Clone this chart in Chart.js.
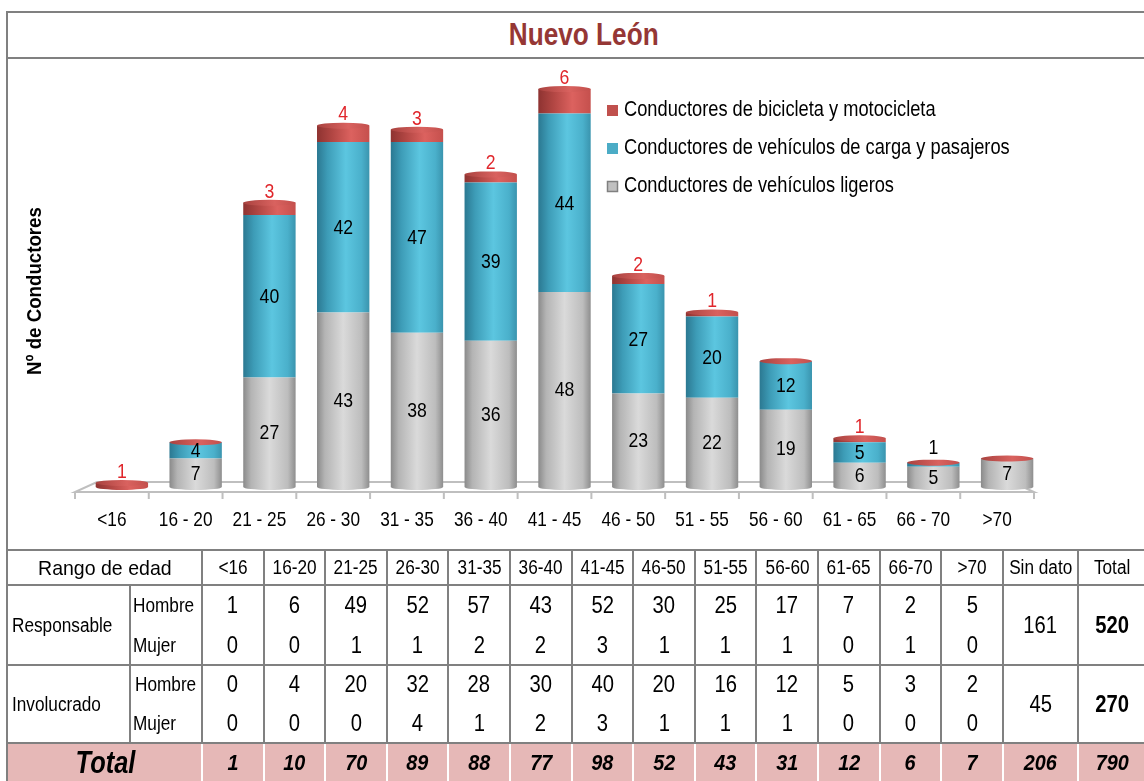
<!DOCTYPE html>
<html>
<head>
<meta charset="utf-8">
<script src="https://cdn.jsdelivr.net/npm/chart.js@4.4.1/dist/chart.umd.min.js"></script>
<style>
html,body{margin:0;padding:0;background:#fff;width:1144px;height:781px;overflow:hidden;
  font-family:"Liberation Sans",Arial,sans-serif;color:#000;}
#titleRow{position:absolute;left:6px;top:11px;width:1160px;height:44px;border-left:2px solid #808080;border-top:2px solid #808080;border-bottom:2px solid #808080;}
#title{position:absolute;left:0;top:0;width:1152px;height:44px;display:flex;align-items:center;justify-content:center;}
#title span{display:inline-block;font-weight:bold;font-size:31px;color:#953735;transform:scaleX(0.845);}
#leftLine{position:absolute;left:6px;top:57px;width:2px;height:730px;background:#808080;}
#cv{position:absolute;left:8px;top:58px;}
#tbl{position:absolute;left:0;top:0;width:1144px;height:781px;}
.c{position:absolute;display:flex;align-items:center;justify-content:center;white-space:nowrap;box-sizing:border-box;}
.c span{display:inline-block;}
.ln{position:absolute;}
</style>
</head>
<body>
<div id="titleRow"><div id="title"><span>Nuevo León</span></div></div>
<div id="leftLine"></div>
<canvas id="cv" width="1136" height="490"></canvas>
<div id="tbl"></div>
<script>
// ---------- chart data ----------
const categories = ['<16','16 - 20','21 - 25','26 - 30','31 - 35','36 - 40','41 - 45','46 - 50','51 - 55','56 - 60','61 - 65','66 - 70','>70'];
const ligeros   = [0, 7, 27, 43, 38, 36, 48, 23, 22, 19, 6, 5, 7];
const carga     = [0, 4, 40, 42, 47, 39, 44, 27, 20, 12, 5, 1, 0];
const bicicleta = [1, 0, 3, 4, 3, 2, 6, 2, 1, 0, 1, 0, 0];
const seriesNames = ['Conductores de vehículos ligeros','Conductores de vehículos de carga y pasajeros','Conductores de bicicleta y motocicleta'];

// ---------- table data ----------
const tableAges  = ['<16','16-20','21-25','26-30','31-35','36-40','41-45','46-50','51-55','56-60','61-65','66-70','>70'];
const respHombre = [1, 6, 49, 52, 57, 43, 52, 30, 25, 17, 7, 2, 5];
const respMujer  = [0, 0, 1, 1, 2, 2, 3, 1, 1, 1, 0, 1, 0];
const invHombre  = [0, 4, 20, 32, 28, 30, 40, 20, 16, 12, 5, 3, 2];
const invMujer   = [0, 0, 0, 4, 1, 2, 3, 1, 1, 1, 0, 0, 0];
const sinDato    = [161, 45];
const totalGrupo = [520, 270];
const totalEdad  = [1, 10, 70, 89, 88, 77, 98, 52, 43, 31, 12, 6, 7];
const totalSinDato = 206;
const totalGeneral = 790;

const FONT = '"Liberation Sans",Arial,sans-serif';
const BAR_PCT = 0.71;
const SHIFT = 10; // 3D depth offset of bars vs. floor front

function narrowText(ctx, text, x, y, k){
  ctx.save(); ctx.translate(x, y); ctx.scale(k, 1); ctx.fillText(text, 0, 0); ctx.restore();
}

function cyl(stops){
  return (c) => {
    const chart = c.chart, xs = chart.scales.x;
    if (!xs || !chart.chartArea) return stops[2][1];
    const w = xs.width / categories.length * BAR_PCT;
    const cx = xs.getPixelForValue(c.dataIndex);
    const g = chart.ctx.createLinearGradient(cx - w/2, 0, cx + w/2, 0);
    stops.forEach(s => g.addColorStop(s[0], s[1]));
    return g;
  };
}
const grayStops = [[0,'#8a8a8a'],[0.15,'#b4b4b4'],[0.5,'#dadada'],[0.85,'#bdbdbd'],[1,'#8e8e8e']];
const blueStops = [[0,'#2b7891'],[0.2,'#3d9cb7'],[0.55,'#5cc6e0'],[0.85,'#4ab0cb'],[1,'#3a94ae']];
const redStops  = [[0,'#8e3331'],[0.3,'#b34744'],[0.65,'#dc625f'],[1,'#c5504d']];

const floorPlugin = {
  id:'floor',
  beforeDatasetsDraw(chart){
    const ctx = chart.ctx, xs = chart.scales.x, ys = chart.scales.y;
    const n = categories.length, cw = xs.width / n;
    const base = ys.getPixelForValue(0);
    const frontY = base + 5, backY = base - 5;
    const l = xs.left - SHIFT, r = xs.right - SHIFT;
    ctx.save();
    ctx.strokeStyle = '#bfbfbf'; ctx.lineWidth = 2;
    ctx.beginPath();
    ctx.moveTo(l, frontY); ctx.lineTo(r, frontY);
    ctx.lineTo(r - 22, backY); ctx.lineTo(l + 22, backY); ctx.closePath();
    ctx.stroke();
    ctx.beginPath();
    for (let i = 0; i <= n; i++){
      const x = l + i * cw;
      ctx.moveTo(x, frontY); ctx.lineTo(x, frontY + 7);
    }
    ctx.stroke();
    ctx.restore();
  }
};

const capsPlugin = {
  id:'caps',
  afterDatasetsDraw(chart){
    const ctx = chart.ctx;
    const mL = chart.getDatasetMeta(0).data, mC = chart.getDatasetMeta(1).data, mB = chart.getDatasetMeta(2).data;
    ctx.save();
    for (let i = 0; i < categories.length; i++){
      const el = mB[i]; const w = el.width; const x = el.x;
      const bottomEl = ligeros[i] > 0 ? mL[i] : (carga[i] > 0 ? mC[i] : mB[i]);
      const bStops = ligeros[i] > 0 ? grayStops : (carga[i] > 0 ? blueStops : redStops);
      const gb = ctx.createLinearGradient(x - w/2, 0, x + w/2, 0);
      bStops.forEach(s => gb.addColorStop(s[0], s[1]));
      ctx.fillStyle = gb;
      ctx.beginPath(); ctx.ellipse(x, bottomEl.base, w/2, 3, 0, 0, Math.PI); ctx.fill();
      const top = el.y;
      const g = ctx.createLinearGradient(x - w/2, 0, x + w/2, 0);
      g.addColorStop(0,'#a9423f'); g.addColorStop(0.6,'#d9625f'); g.addColorStop(1,'#c24f4c');
      ctx.fillStyle = g;
      ctx.beginPath(); ctx.ellipse(x, top, w/2, 3, 0, 0, Math.PI*2); ctx.fill();
    }
    ctx.restore();
  }
};

const labelsPlugin = {
  id:'vlabels',
  afterDraw(chart){
    const ctx = chart.ctx, xs = chart.scales.x;
    const mL = chart.getDatasetMeta(0).data, mC = chart.getDatasetMeta(1).data, mB = chart.getDatasetMeta(2).data;
    ctx.save();
    ctx.font = '21px ' + FONT; ctx.textAlign = 'center'; ctx.textBaseline = 'middle';
    // category labels (from the x scale)
    ctx.fillStyle = '#000';
    categories.forEach((c, i) => narrowText(ctx, c, xs.getPixelForValue(i) - SHIFT, xs.top + 33, 0.82));
    for (let i = 0; i < categories.length; i++){
      const top = mB[i].y;
      ctx.fillStyle = '#000';
      if (ligeros[i] > 0) narrowText(ctx, String(ligeros[i]), mL[i].x, (mL[i].y + mL[i].base)/2 + 1, 0.84);
      if (carga[i] >= 2) narrowText(ctx, String(carga[i]), mC[i].x, (mC[i].y + mC[i].base)/2 + 1, 0.84);
      else if (carga[i] > 0) narrowText(ctx, String(carga[i]), mC[i].x, top - 14, 0.84);
      if (bicicleta[i] > 0){ ctx.fillStyle = '#e0262b'; narrowText(ctx, String(bicicleta[i]), mB[i].x, top - 11, 0.84); }
    }
    // y-axis title
    const ca = chart.chartArea;
    ctx.save();
    ctx.translate(27, (ca.top + ca.bottom)/2 + 7);
    ctx.rotate(-Math.PI/2);
    ctx.font = 'bold 21px ' + FONT; ctx.fillStyle = '#000';
    narrowText(ctx, 'Nº de Conductores', 0, 0, 0.89);
    ctx.restore();
    // legend
    const legendItems = [
      {t: seriesNames[2], c:'#c0504d', b:null},
      {t: seriesNames[1], c:'#4bacc6', b:null},
      {t: seriesNames[0], c:'#c0c0c0', b:'#808080'}
    ];
    ctx.font = '22px ' + FONT; ctx.textAlign = 'left';
    legendItems.forEach((it, k) => {
      const y = 52 + k * 38;
      ctx.fillStyle = it.c; ctx.fillRect(599, y - 5, 11, 11);
      if (it.b){ ctx.strokeStyle = it.b; ctx.lineWidth = 1.5; ctx.strokeRect(599.5, y - 4.5, 10, 10); }
      ctx.fillStyle = '#000'; narrowText(ctx, it.t, 616, y, 0.83);
    });
    ctx.restore();
  }
};

new Chart(document.getElementById('cv'), {
  type:'bar',
  data:{
    labels: categories,
    datasets:[
      {label: seriesNames[0], data: ligeros, backgroundColor: cyl(grayStops), stack:'s'},
      {label: seriesNames[1], data: carga, backgroundColor: cyl(blueStops), stack:'s'},
      {label: seriesNames[2], data: bicicleta, backgroundColor: cyl(redStops), stack:'s'}
    ]
  },
  options:{
    responsive:false, animation:false,
    layout:{padding:{left:77, right:100, top:23, bottom:0}},
    datasets:{bar:{categoryPercentage:1, barPercentage:BAR_PCT, borderWidth:0}},
    plugins:{legend:{display:false}, tooltip:{enabled:false}},
    scales:{
      x:{stacked:true, grid:{display:false, drawTicks:false}, border:{display:false},
         ticks:{display:false},
         afterFit(s){ s.height = 61; }},
      y:{stacked:true, display:false, min:0, max:100}
    }
  },
  plugins:[floorPlugin, capsPlugin, labelsPlugin]
});

// ---------- table ----------
const T = document.getElementById('tbl');
function cell(x1, x2, y1, y2, text, style, k, align){
  const d = document.createElement('div'); d.className = 'c';
  d.style.cssText = `left:${x1}px;top:${y1}px;width:${x2-x1}px;height:${y2-y1}px;` + (align || '');
  const s = document.createElement('span');
  s.style.cssText = style + `transform:scaleX(${k || 0.87});transform-origin:${align ? 'left' : 'center'} center;`;
  s.textContent = text; d.appendChild(s); T.appendChild(d);
}
function line(x, y, w, h, color){
  const d = document.createElement('div'); d.className = 'ln';
  d.style.cssText = `left:${x}px;top:${y}px;width:${w}px;height:${h}px;background:${color};`;
  T.appendChild(d);
}
const colX = [202]; for (let i = 1; i <= 13; i++) colX.push(202 + i * 61.6);
const xSD = 1078, xEnd = 1146;
const yH = 550, yR1 = 585, yRm = 625, yR2 = 665, yIm = 704, yT = 743, yEnd = 783;
line(7, yT, xEnd - 7, yEnd - yT, '#e6b8b7');
const hdr = 'font-size:20px;';
const numF = 'font-size:23px;';
const totF = 'font-size:22px;font-weight:bold;font-style:italic;';
const leftA = (p) => `justify-content:flex-start;padding-left:${p}px;`;
cell(8, 202, yH, yR1, 'Rango de edad', 'font-size:21px;', 0.93);
tableAges.forEach((a, i) => cell(colX[i], colX[i+1], yH, yR1, a, hdr, 0.86));
cell(colX[13], xSD, yH, yR1, 'Sin dato', hdr, 0.86);
cell(xSD, xEnd, yH, yR1, 'Total', hdr, 0.86);
cell(8, 130, yR1, yR2, 'Responsable', 'font-size:20px;', 0.86, leftA(4));
cell(8, 130, yR2, yT, 'Involucrado', 'font-size:20px;', 0.86, leftA(4));
cell(130, 202, yR1, yRm, 'Hombre', 'font-size:20px;', 0.86, leftA(3));
cell(130, 202, yRm, yR2, 'Mujer', 'font-size:20px;', 0.86, leftA(3));
cell(130, 202, yR2, yIm, 'Hombre', 'font-size:20px;', 0.86, leftA(5));
cell(130, 202, yIm, yT, 'Mujer', 'font-size:20px;', 0.86, leftA(3));
tableAges.forEach((a, i) => {
  cell(colX[i], colX[i+1], yR1, yRm, String(respHombre[i]), numF, 0.88);
  cell(colX[i], colX[i+1], yRm, yR2, String(respMujer[i]), numF, 0.88);
  cell(colX[i], colX[i+1], yR2, yIm, String(invHombre[i]), numF, 0.88);
  cell(colX[i], colX[i+1], yIm, yT, String(invMujer[i]), numF, 0.88);
  cell(colX[i], colX[i+1], yT, yEnd, String(totalEdad[i]), totF, 0.9);
});
cell(colX[13], xSD, yR1, yR2, String(sinDato[0]), numF, 0.88);
cell(colX[13], xSD, yR2, yT, String(sinDato[1]), numF, 0.88);
cell(xSD, xEnd, yR1, yR2, String(totalGrupo[0]), numF + 'font-weight:bold;', 0.88);
cell(xSD, xEnd, yR2, yT, String(totalGrupo[1]), numF + 'font-weight:bold;', 0.88);
cell(8, 202, yT, yEnd, 'Total', 'font-size:31px;font-weight:bold;font-style:italic;', 0.82);
cell(colX[13], xSD, yT, yEnd, String(totalSinDato), totF, 0.9);
cell(xSD, xEnd, yT, yEnd, String(totalGeneral), totF, 0.9);
const G = '#808080';
[yH, yR1, yR2, yT].forEach(y => line(6, y - 1, xEnd - 6, 2, G));
line(6, yH - 1, 2, yEnd - yH + 1, G);
line(129, yR1, 2, yT - yR1, G);
colX.forEach(x => line(Math.round(x) - 1, yH, 2, yT - yH, G));
line(xSD - 1, yH, 2, yT - yH, G);
colX.forEach(x => line(Math.round(x) - 1, yT + 1, 2, yEnd - yT, '#fff'));
line(xSD - 1, yT + 1, 2, yEnd - yT, '#fff');
</script>
</body>
</html>
